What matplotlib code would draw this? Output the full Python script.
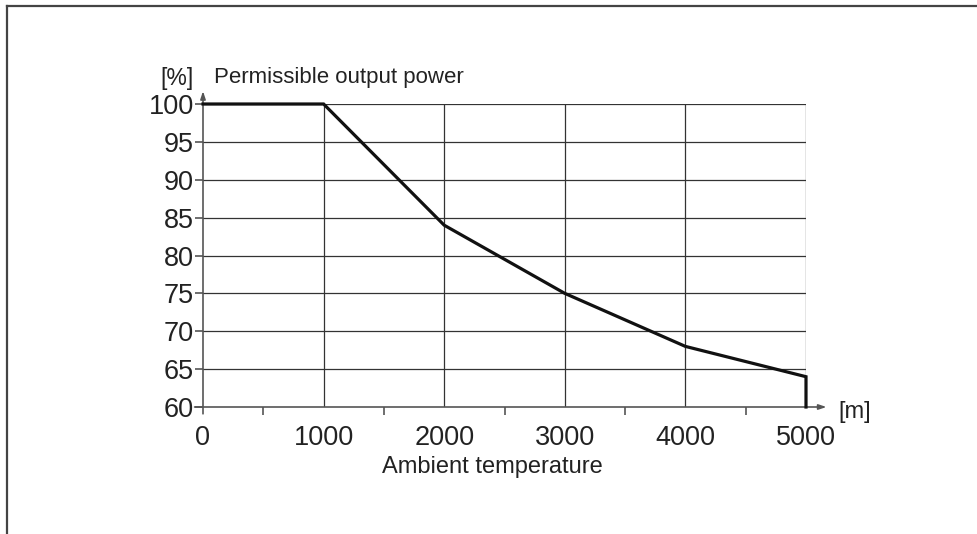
import matplotlib.pyplot as plt
from matplotlib.lines import Line2D

plt.rcParams['font.family'] = ['Liberation Sans', 'DejaVu Sans']

# derating curve: output power vs. installation altitude
altitude = [0, 1000, 2000, 3000, 4000, 5000, 5000]
power = [100, 100, 84, 75, 68, 64, 60]

x_ticks = [0, 1000, 2000, 3000, 4000, 5000]
x_minor = [500, 1500, 2500, 3500, 4500]
y_ticks = [60, 65, 70, 75, 80, 85, 90, 95, 100]

fig = plt.figure(figsize=(9.77, 5.34), dpi=100)
ax = fig.add_axes([203 / 977, 1 - 407 / 534, 603 / 977, 303 / 534])

# outer frame (only top and left edges are visible)
fig.add_artist(Line2D([7 / 977, 7 / 977], [0, 1 - 6 / 534], transform=fig.transFigure, color='#444', lw=1.6))
fig.add_artist(Line2D([7 / 977, 1], [1 - 6 / 534, 1 - 6 / 534], transform=fig.transFigure, color='#444', lw=1.6))

ax.set_xlim(0, 5000)
ax.set_ylim(60, 100)
for s in ax.spines.values():
    s.set_visible(False)

# grid
for y in y_ticks[1:]:
    ax.plot([0, 5000], [y, y], color='#333', lw=0.9, zorder=1)
for x in x_ticks[1:]:
    ax.plot([x, x], [60, 100], color='#333', lw=0.9, zorder=1)

# axes with arrows
ax.annotate('', xy=(0, 101.7), xytext=(0, 59.1), annotation_clip=False,
            arrowprops=dict(arrowstyle='-|>,head_length=0.45,head_width=0.15', color='#555', lw=1.2, shrinkA=0, shrinkB=0))
ax.annotate('', xy=(5170, 60), xytext=(-70, 60), annotation_clip=False,
            arrowprops=dict(arrowstyle='-|>,head_length=0.45,head_width=0.15', color='#555', lw=1.2, shrinkA=0, shrinkB=0))

ax.plot(altitude, power, color='#111', lw=2.3, zorder=3, solid_joinstyle='miter', clip_on=False)

ax.set_xticks(x_ticks)
ax.set_xticks(x_minor, minor=True)
ax.set_yticks(y_ticks)
ax.tick_params(axis='x', which='major', length=0, pad=13, labelsize=19.5, labelcolor='#222')
ax.tick_params(axis='x', which='minor', length=6, width=1.2, color='#555', direction='out')
ax.tick_params(axis='y', length=6, width=1.2, color='#555', direction='out', pad=0.5, labelsize=19.5, labelcolor='#222')

fig.text(160 / 977, 1 - 78 / 534, '[%]', fontsize=16.5, color='#222', va='center')
fig.text(214 / 977, 1 - 78 / 534, 'Permissible output power', fontsize=16, color='#222', va='center')
fig.text(838 / 977, 1 - 412 / 534, '[m]', fontsize=17, color='#222', va='center')
fig.text(492 / 977, 1 - 467 / 534, 'Ambient temperature', fontsize=17, color='#222', va='center', ha='center')

fig.savefig('out.png', dpi=100)
